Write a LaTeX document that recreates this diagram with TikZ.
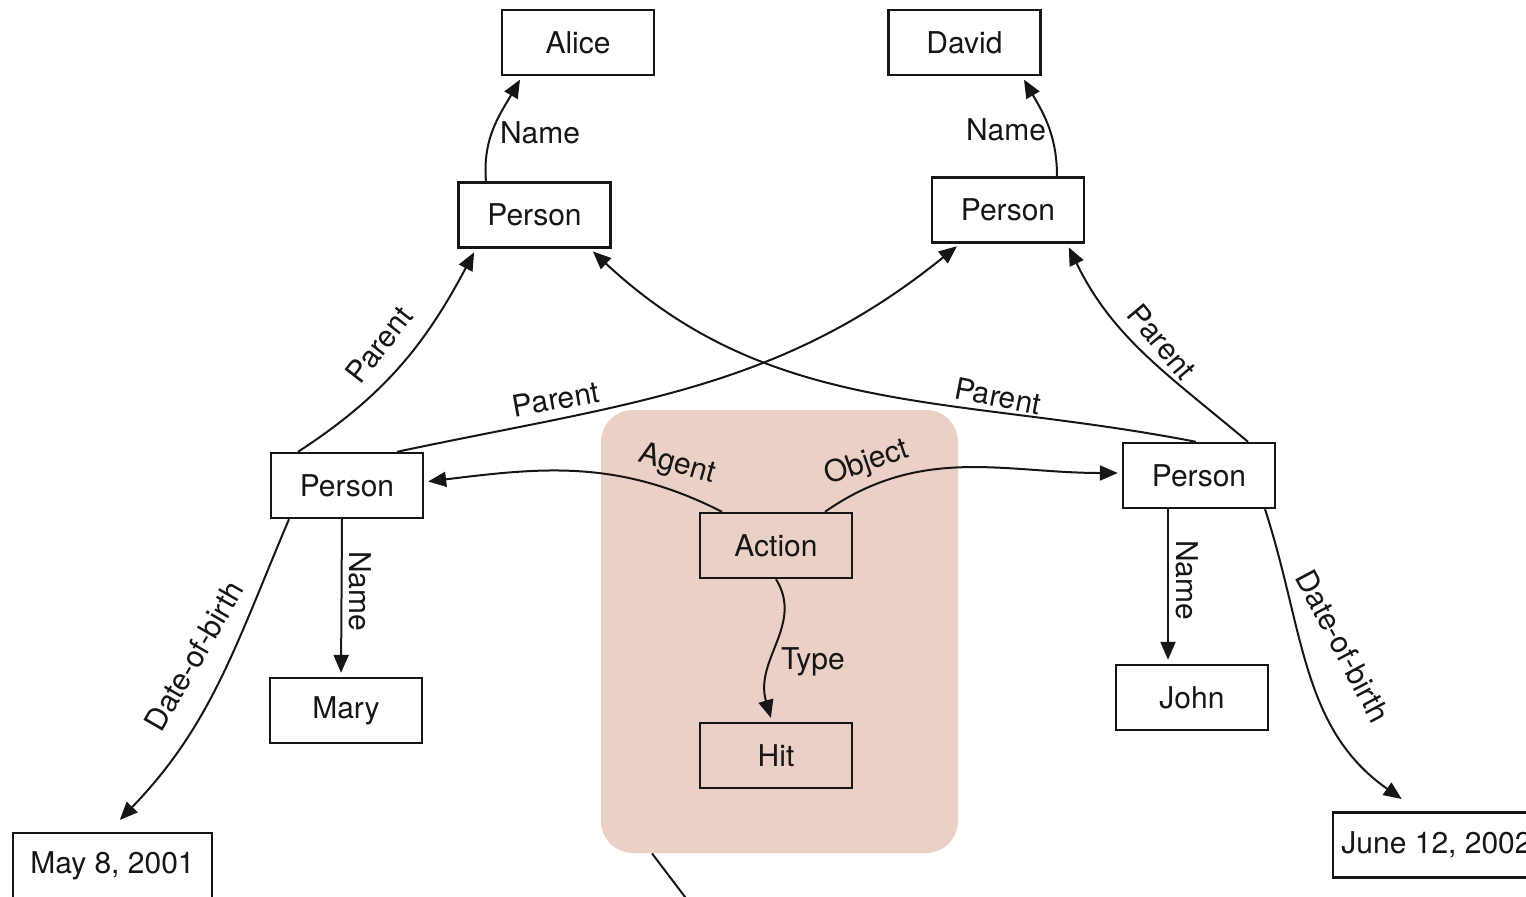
\documentclass[tikz,border=0pt]{standalone}
\usepackage{fontspec}
\setmainfont{TeX Gyre Heros}
\usetikzlibrary{arrows.meta}
\definecolor{framefill}{RGB}{235,208,197}
\definecolor{ink}{RGB}{22,22,22}
\begin{document}
\begin{tikzpicture}[x=0.5pt,y=0.5pt,
  every node/.style={font=\fontsize{15}{18}\selectfont, text=ink},
  box/.style={draw=ink, line width=1.2pt, minimum width=76pt, minimum height=32.5pt, inner sep=0pt},
  link/.style={draw=ink, line width=1pt, -{Triangle[length=9pt,width=7.5pt]}, shorten >=2pt},
  plain/.style={draw=ink, line width=1pt},
  lbl/.style={inner sep=0pt},
  frame/.style={fill=framefill, rounded corners=16pt, minimum width=178.5pt, minimum height=221.5pt, inner sep=0pt}]
\useasboundingbox (0,0) rectangle (1526,-896);
\clip (0,0) rectangle (1526,-896);

% event frame
\node[frame] (frame) at (779.5,-631.5) {};

% entities
\node[box] (alice)  at (578,-42.5)    {Alice};
\node[box] (david)  at (964.5,-42.5)  {David};
\node[box] (ptl)    at (534.5,-215)   {Person};
\node[box] (ptr)    at (1008,-210)    {Person};
\node[box] (pl)     at (347,-485.5)   {Person};
\node[box] (pr)     at (1199,-475.5)  {Person};
\node[box] (action) at (776,-545.5)   {Action};
\node[box] (hit)    at (776,-755.5)   {Hit};
\node[box] (mary)   at (346,-710.5)   {Mary};
\node[box] (john)   at (1192,-697.5)  {John};
\node[box, minimum width=99.5pt]  (may)  at (112.5,-865.5) {May 8, 2001};
\node[box, minimum width=103.5pt] (june) at (1436.5,-845)  {June 12, 2002};

% relations
\draw[link] ([shift={(-48.5,0)}]ptl.north) to[out=95,in=240] ([shift={(-56,0)}]alice.south);
\draw[link] ([shift={(49,0)}]ptr.north) to[out=90,in=-60] ([shift={(57.5,0)}]david.south);
\draw[link] ([shift={(-49,0)}]pl.north) to[out=33,in=242] ([shift={(-58.5,0)}]ptl.south);
\draw[link] ([shift={(50,0)}]pl.north) to[out=12,in=219] ([shift={(-48,0)}]ptr.south);
\draw[link] ([shift={(-3,0)}]pr.north) to[out=169,in=317] ([shift={(55.5,0)}]ptl.south);
\draw[link] ([shift={(49,0)}]pr.north) to[out=140,in=296] ([shift={(59,0)}]ptr.south);
\draw[link] ([shift={(-54,0)}]action.north) to[out=153,in=7] ([shift={(0,3.5)}]pl.east);
\draw[link] ([shift={(49,0)}]action.north) to[out=35,in=180] ([shift={(0,2.5)}]pr.west);
\draw[link] ([shift={(-5,0)}]pl.south) -- ([shift={(-5,0)}]mary.north);
\draw[link] ([shift={(-31,0)}]pr.south) -- ([shift={(-24,0)}]john.north);
\draw[link] ([shift={(-58,0)}]pl.south) to[out=-113,in=46] ([shift={(4.5,9)}]may.north);
\draw[link] ([shift={(66,0)}]pr.south) to[out=-72,in=145] ([shift={(-31.5,10)}]june.north);
\draw[link] (action.south) .. controls +(28,-45) and +(-18,62) .. ([shift={(-4,0)}]hit.north);

% trailing connector below the frame
\coordinate (tail) at (701,-918);
\draw[plain] ([shift={(-127.5,0)}]frame.south) -- (tail);

% labels
\node[lbl] (lname1) at (540,-133) {Name};
\node[lbl] (lname2) at (1006,-130) {Name};
\node[lbl, rotate=52] (lpar1) at (379,-345) {Parent};
\node[lbl, rotate=10] (lpar2) at (556,-399) {Parent};
\node[lbl, rotate=-11] (lpar3) at (998,-396) {Parent};
\node[lbl, rotate=-50] (lpar4) at (1162,-342) {Parent};
\node[lbl, rotate=-16] (lagent) at (677,-465) {Agent};
\node[lbl, rotate=19] (lobject) at (867,-463) {Object};
\node[lbl, rotate=-90] (lname3) at (360,-591) {Name};
\node[lbl, rotate=-90] (lname4) at (1187,-580) {Name};
\node[lbl, rotate=60] (ldob1) at (194,-656) {Date-of-birth};
\node[lbl, rotate=-62] (ldob2) at (1343,-646) {Date-of-birth};
\node[lbl] (ltype) at (813,-662) {Type};
\end{tikzpicture}
\end{document}
